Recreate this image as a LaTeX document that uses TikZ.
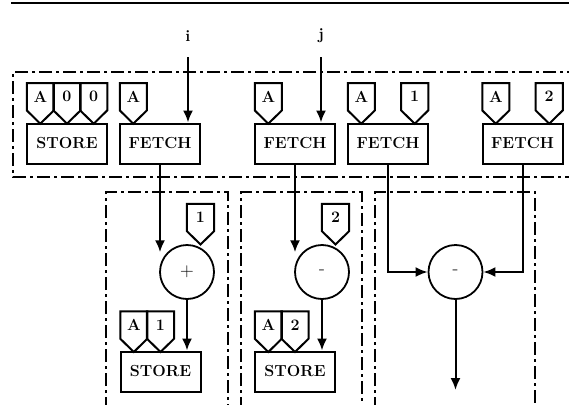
\documentclass[tikz,border=0pt]{standalone}
\usepackage{fontspec}
\setmainfont{Latin Modern Roman}
\usetikzlibrary{arrows.meta}
\begin{document}
\begin{tikzpicture}[x=1pt,y=-1pt,
  every node/.style={font=\fontsize{16}{18}\selectfont\bfseries},
  opbox/.style={draw,line width=2pt,minimum width=80pt,minimum height=40pt,inner sep=0pt},
  tagtext/.style={minimum width=26.7pt,minimum height=27pt,inner sep=0pt},
  tagline/.style={line width=2pt,line join=miter},
  opcirc/.style={draw,circle,line width=1.8pt,minimum size=54pt,inner sep=0pt,font=\fontsize{19}{20}\selectfont},
  flow/.style={line width=2pt,-{Latex[length=12pt,width=10pt]}},
  region/.style={line width=2pt,dash pattern=on 13pt off 4pt on 3pt off 4pt},
  lbl/.style={inner sep=1pt}]
\useasboundingbox (0,0) rectangle (569,404);
\newcommand\mktag[4]{%
  \node[tagtext] (#1) at (#2,#3) {#4};
  \draw[tagline] (#1.north west) -- (#1.north east) -- (#1.south east)
     -- ([yshift=-13.3pt]#1.south) -- (#1.south west) -- cycle;}
% top rule
\draw[line width=2.5pt] (11,3) -- (575,3);
% regions
\draw[region] (580,72) -- (13,72) -- (13,177) -- (580,177);
\draw[region] (106,410) -- (106,192) -- (228,192) -- (228,410);
\draw[region] (241,410) -- (241,192) -- (362,192) -- (362,410);
\draw[region] (375,410) -- (375,192) -- (535,192) -- (535,410);
% top row
\node[opbox] (s0) at (67,143.5) {STORE};
\mktag{s0a}{40.3}{96.7}{A}
\mktag{s0b}{67}{96.7}{0}
\mktag{s0c}{93.7}{96.7}{0}
\node[opbox] (f1) at (160,143.5) {FETCH};
\mktag{f1a}{133.3}{96.7}{A}
\node[opbox] (f2) at (295,143.5) {FETCH};
\mktag{f2a}{268.3}{96.7}{A}
\node[opbox] (f3) at (388,143.5) {FETCH};
\mktag{f3a}{361.3}{96.7}{A}
\mktag{f3b}{414.7}{96.7}{1}
\node[opbox] (f4) at (522.5,143.5) {FETCH};
\mktag{f4a}{495.8}{96.7}{A}
\mktag{f4b}{549.2}{96.7}{2}
% inputs
\node[lbl] (i) at (188,36) {i};
\node[lbl] (j) at (321,36) {j};
\draw[flow] (188,57) -- (i |- f1.north);
\draw[flow] (321,57) -- (j |- f2.north);
% operators
\node[opcirc] (c1) at (187,272) {+};
\node[opcirc] (c2) at (322,272) {-};
\node[opcirc] (c3) at (455.5,272) {-};
\mktag{c1t}{200.5}{217.5}{1}
\mktag{c2t}{335.5}{217.5}{2}
\draw[flow] (f1.south) -- (f1.south |- c1.north west);
\draw[flow] (f2.south) -- (f2.south |- c2.north west);
\draw[flow] (f3.south) |- (c3.west);
\draw[flow] (f4.south) |- (c3.east);
\coordinate (out) at (455.5,390);
\draw[flow] (c3.south) -- (out);
% stores
\node[opbox] (s1) at (160.5,371.5) {STORE};
\mktag{s1a}{133.8}{325}{A}
\mktag{s1b}{160.5}{325}{1}
\node[opbox] (s2) at (295,371.5) {STORE};
\mktag{s2a}{268.3}{325}{A}
\mktag{s2b}{295}{325}{2}
\draw[flow] (c1.south) -- (c1.south |- s1.north);
\draw[flow] (c2.south) -- (c2.south |- s2.north);
\end{tikzpicture}
\end{document}
